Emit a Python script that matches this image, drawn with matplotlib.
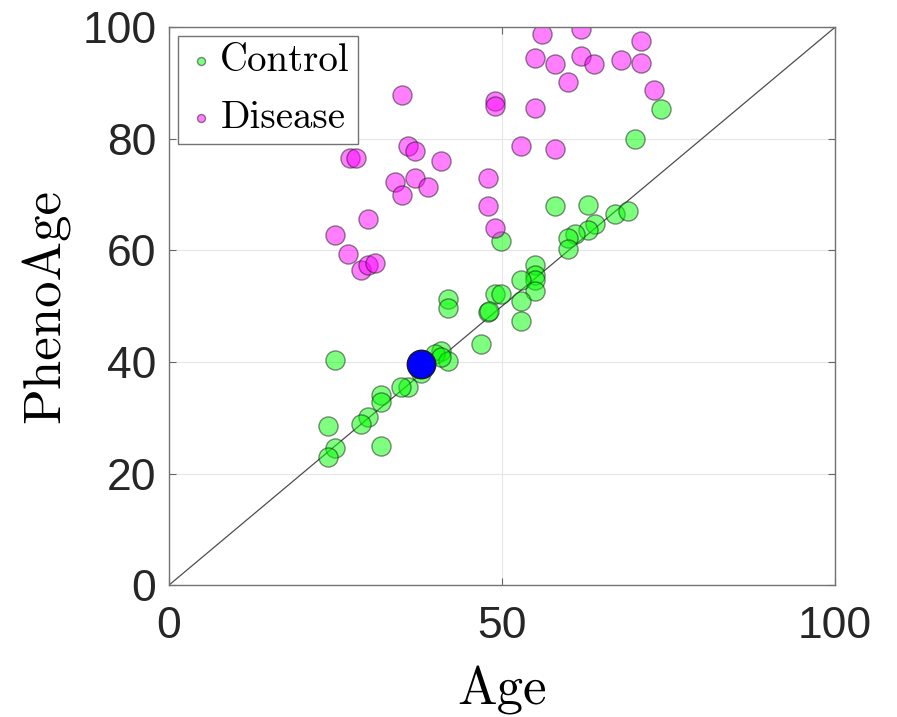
import matplotlib
matplotlib.use("Agg")
import matplotlib.pyplot as plt

# Control group (age, phenoage)
control_age = [49.8, 58.0, 62.9, 67.0, 68.9, 64.0, 62.9, 61.0, 59.9, 59.9,
               55.0, 55.0, 55.0, 52.9, 55.0, 52.9, 52.9, 48.9, 49.8, 47.9,
               48.1, 41.9, 41.9, 46.8, 40.8, 39.9, 41.9, 40.8, 37.8, 35.9,
               34.8, 31.8, 31.8, 29.9, 28.8, 24.9, 23.9, 24.9, 23.9, 31.8,
               73.9, 70.0]
control_pheno = [61.6, 67.9, 68.2, 66.6, 67.0, 64.8, 63.7, 63.0, 62.3, 60.2,
                 57.3, 55.5, 54.6, 54.6, 52.8, 50.9, 47.3, 52.2, 52.1, 48.9,
                 49.1, 51.2, 49.6, 43.3, 41.9, 41.5, 40.1, 40.8, 38.0, 35.5,
                 35.5, 34.0, 32.8, 30.1, 28.8, 40.3, 28.5, 24.5, 22.9, 24.9,
                 85.4, 80.0]

# Disease group
disease_age = [56.0, 61.9, 70.9, 55.0, 57.9, 61.9, 63.8, 67.9, 70.9, 59.9,
               72.8, 35.0, 48.9, 48.9, 55.0, 52.9, 57.9, 35.9, 36.9, 40.8,
               27.2, 28.1, 33.9, 36.9, 38.9, 35.0, 47.9, 47.9, 48.9, 29.9,
               24.9, 26.9, 28.8, 29.9, 30.9]
disease_pheno = [98.7, 99.7, 97.6, 94.5, 93.5, 94.9, 93.5, 94.2, 93.6, 90.1,
                 88.8, 87.9, 86.7, 85.9, 85.6, 78.8, 78.2, 78.8, 77.9, 76.1,
                 76.5, 76.5, 72.3, 72.9, 71.3, 70.0, 72.9, 68.0, 64.1, 65.7,
                 62.8, 59.3, 56.4, 57.3, 57.7]

# highlighted subject
subject_age = [37.8]
subject_pheno = [39.6]

fig = plt.figure(figsize=(8.97, 7.17), dpi=100)
ax = fig.add_axes([0.1884, 0.184, 0.7425, 0.778])

ax.plot([0, 100], [0, 100], color="0.3", linewidth=0.9, zorder=1)
ax.scatter(control_age, control_pheno, s=190, c=[(0, 1, 0)], alpha=0.5,
           edgecolors="0.1", linewidths=1.0, label="Control", zorder=2)
ax.scatter(disease_age, disease_pheno, s=190, c=[(1, 0, 1)], alpha=0.5,
           edgecolors="0.1", linewidths=1.0, label="Disease", zorder=2)
ax.scatter(subject_age, subject_pheno, s=420, c=[(0, 0, 1)],
           edgecolors="0.1", linewidths=1.0, zorder=3)

ax.set_xlim(0, 100)
ax.set_ylim(0, 100)
ax.set_xticks([0, 50, 100])
ax.set_yticks([0, 20, 40, 60, 80, 100])
ax.grid(True, color="0.9", linewidth=0.8)
ax.set_axisbelow(True)
ax.tick_params(direction="in", top=True, right=True, length=5, width=0.8,
               color="0.4", labelsize=32, labelcolor="0.15")
ax.tick_params(axis="x", pad=15)
ax.tick_params(axis="y", pad=9)
for lab in ax.get_xticklabels() + ax.get_yticklabels():
    lab.set_fontfamily("Liberation Sans")
for sp in ax.spines.values():
    sp.set_color("0.45")
    sp.set_linewidth(1.0)

ax.set_xlabel("Age", fontfamily="cmr10", fontsize=38, labelpad=14)
ax.set_ylabel("PhenoAge", fontfamily="cmr10", fontsize=38, labelpad=9)

leg = ax.legend(loc="upper left", prop={"family": "cmr10", "size": 28},
                markerscale=0.42, handletextpad=0.1, borderpad=0.2,
                labelspacing=0.54, handlelength=0.8, fancybox=False,
                edgecolor="0.45", framealpha=1, borderaxespad=0.22)
leg.get_frame().set_linewidth(1.0)

fig.savefig("out.png", dpi=100)
